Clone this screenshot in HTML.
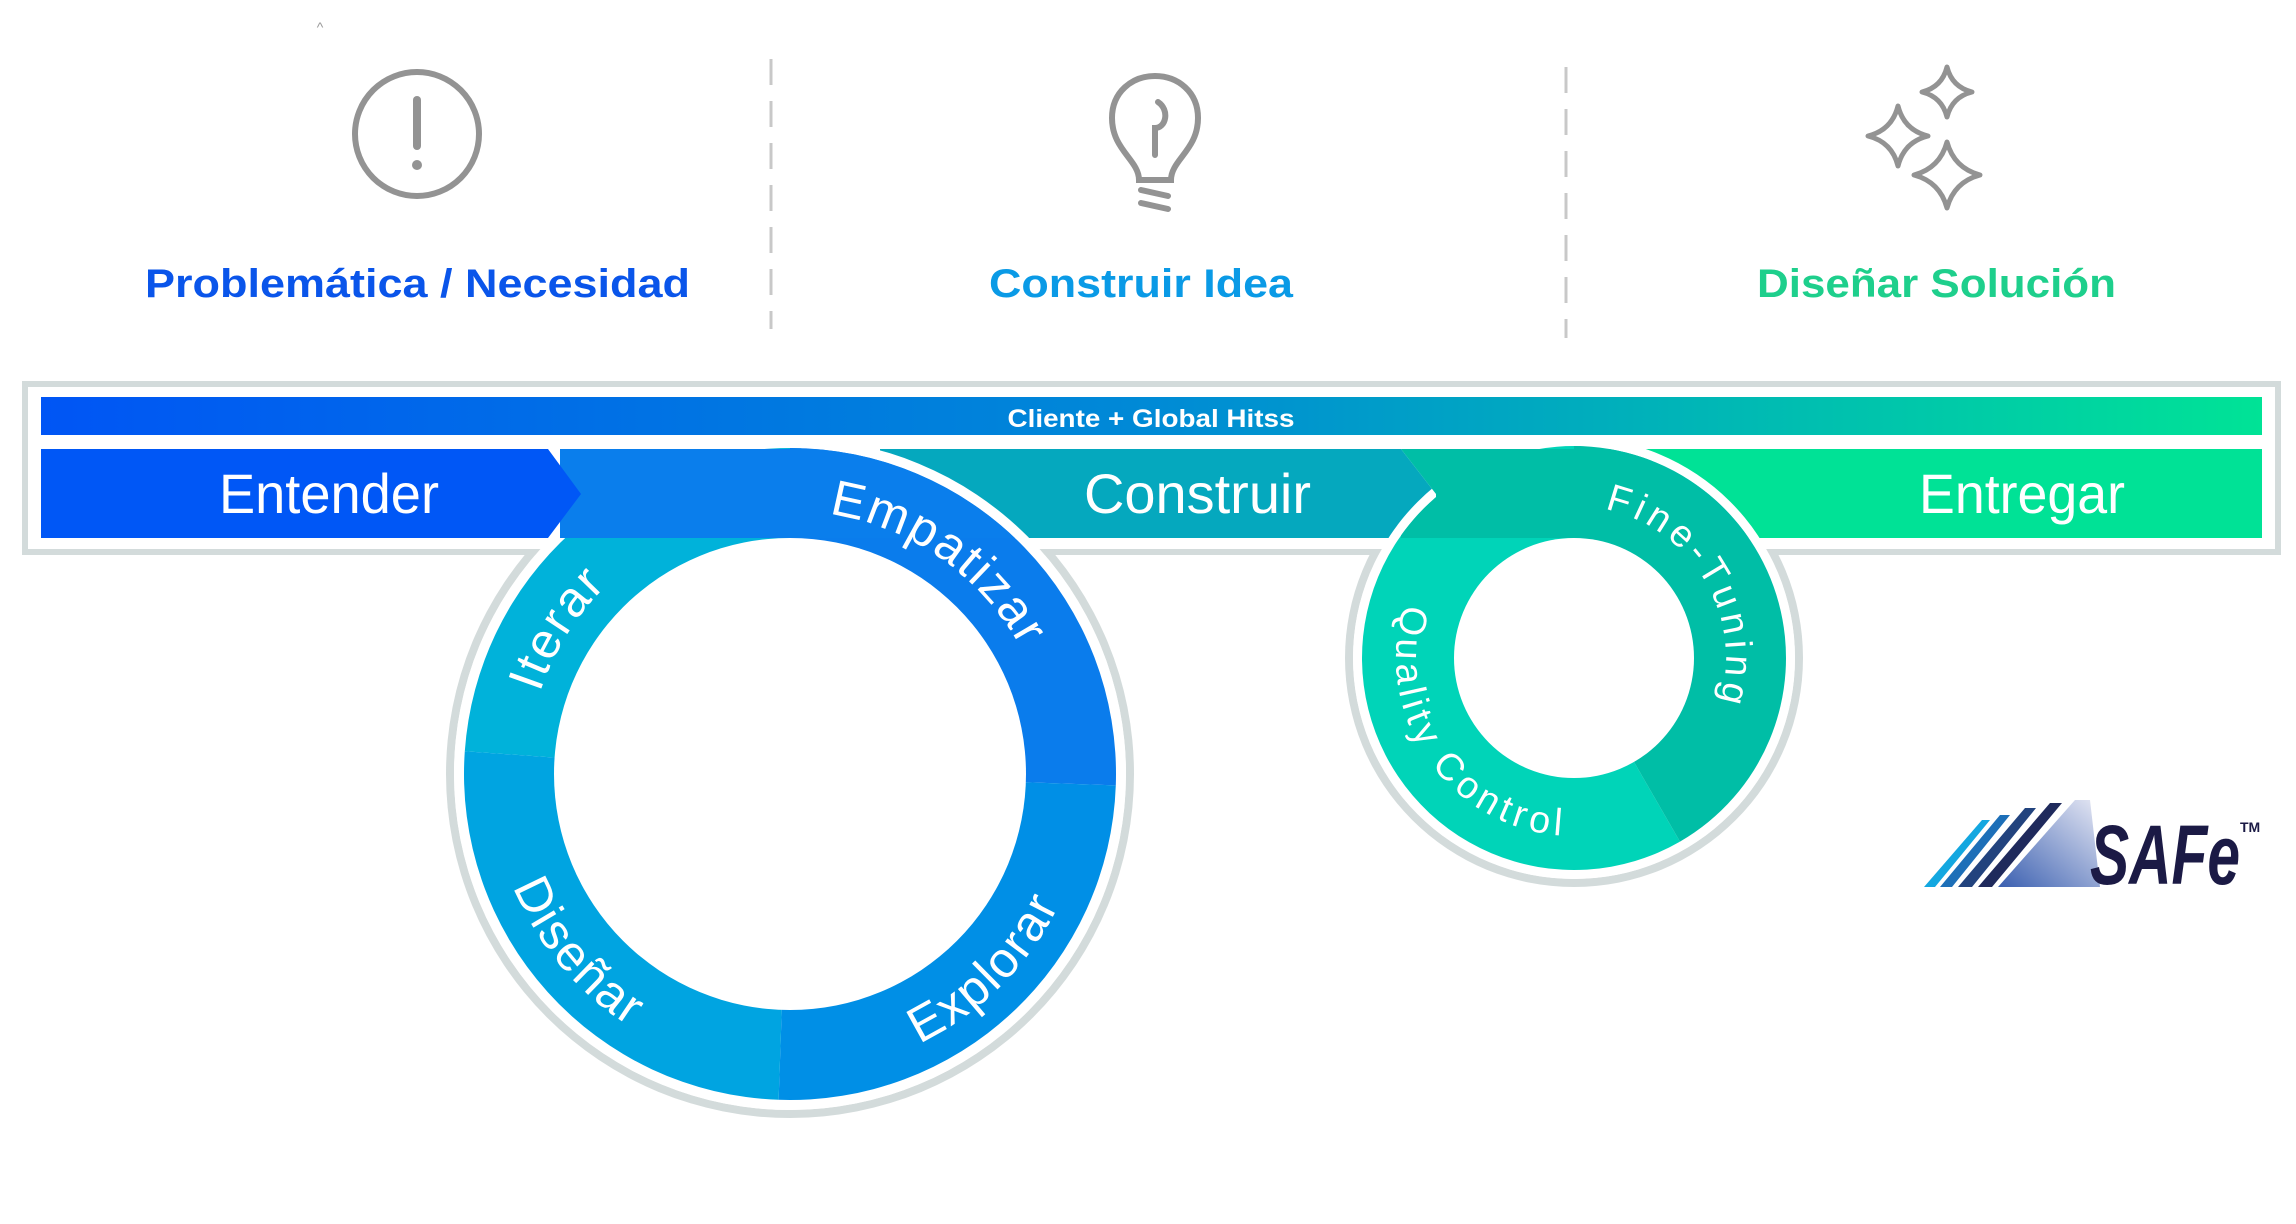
<!DOCTYPE html>
<html><head><meta charset="utf-8"><style>
html,body{margin:0;padding:0;background:#fff;}
svg{display:block;}
text{font-family:"Liberation Sans",sans-serif;}
</style></head><body>
<svg id="s" width="2296" height="1224" viewBox="0 0 2296 1224" xmlns="http://www.w3.org/2000/svg">
<defs>
<linearGradient id="gt" x1="0" x2="1" y1="0" y2="0">
<stop offset="0" stop-color="#0055f5"/><stop offset="0.5" stop-color="#008ad6"/><stop offset="1" stop-color="#00e396"/>
</linearGradient>
<linearGradient id="gl" x1="0" x2="1" y1="1" y2="0">
<stop offset="0" stop-color="#3a5fb0"/><stop offset="1" stop-color="#e6e8f4"/>
</linearGradient>
<clipPath id="cb"><circle cx="790" cy="774" r="326"/><rect x="560" y="449" width="230" height="89"/></clipPath>
<clipPath id="cs"><circle cx="1574" cy="658" r="212"/><rect x="1436" y="449" width="138" height="89"/></clipPath>
</defs>
<text x="320" y="32" font-size="14" fill="#999" text-anchor="middle">^</text>
<line x1="771" y1="59" x2="771" y2="329" stroke="#c8c8c8" stroke-width="3" stroke-dasharray="26,16"/>
<line x1="1566" y1="67" x2="1566" y2="338" stroke="#c8c8c8" stroke-width="3" stroke-dasharray="26,16"/>
<circle cx="417" cy="134" r="62" fill="none" stroke="#939393" stroke-width="6"/>
<line x1="417" y1="100" x2="417" y2="146" stroke="#939393" stroke-width="8" stroke-linecap="round"/>
<circle cx="417" cy="165" r="5" fill="#939393"/>
<g fill="none" stroke="#939393" stroke-width="6" stroke-linecap="round">
<path d="M1139,180 C1139,160 1112,150 1112,118 C1112,92 1132,76 1155,76 C1178,76 1198,92 1198,118 C1198,150 1171,160 1171,180 Z"/>
<path d="M1158,102 C1170,110 1166,128 1155,128 L1155,155"/>
<line x1="1141" y1="190" x2="1168" y2="196"/>
<line x1="1141" y1="203" x2="1168" y2="209"/>
</g>
<g fill="none" stroke="#939393" stroke-width="5" stroke-linejoin="round">
<path d="M1947,67 Q1952,87 1972,92 Q1952,97 1947,117 Q1942,97 1922,92 Q1942,87 1947,67 Z"/>
<path d="M1898,106 Q1904,130 1928,136 Q1904,142 1898,166 Q1892,142 1868,136 Q1892,130 1898,106 Z"/>
<path d="M1947,142 Q1954,168 1980,175 Q1954,182 1947,208 Q1940,182 1914,175 Q1940,168 1947,142 Z"/>
</g>
<text x="145" y="297" font-size="40" font-weight="bold" fill="#0a55ea" textLength="545" lengthAdjust="spacingAndGlyphs">Problemática / Necesidad</text>
<text x="989" y="297" font-size="40" font-weight="bold" fill="#0a9ae6" textLength="304" lengthAdjust="spacingAndGlyphs">Construir Idea</text>
<text x="1757" y="297" font-size="40" font-weight="bold" fill="#1ecf8c" textLength="359" lengthAdjust="spacingAndGlyphs">Diseñar Solución</text>

<circle cx="790" cy="774" r="344" fill="#d3dbdb"/>
<circle cx="790" cy="774" r="336" fill="#fff"/>
<circle cx="1574" cy="658" r="229" fill="#d3dbdb"/>
<circle cx="1574" cy="658" r="221" fill="#fff"/>
<rect x="25" y="384" width="2253" height="168" fill="#fff" stroke="#d3dbdb" stroke-width="6"/>
<rect x="41" y="397" width="2221" height="38" fill="url(#gt)"/>
<text x="1151" y="427" font-size="25" font-weight="bold" fill="#fff" text-anchor="middle" textLength="287" lengthAdjust="spacingAndGlyphs">Cliente + Global Hitss</text>
<polygon points="880,449 1401,449 1436,494 1401,538 880,538" fill="#05a8be"/>
<rect x="1600" y="449" width="662" height="89" fill="#00e296"/>
<circle cx="790" cy="774" r="336" fill="#fff"/>
<circle cx="1574" cy="658" r="221" fill="#fff"/>
<g id="bigring"></g>
<g id="smallring"></g>
<rect x="560" y="449" width="600" height="89" fill="#0a7eec" clip-path="url(#cb)"/>
<rect x="1401" y="449" width="420" height="89" fill="#00bea6" clip-path="url(#cs)"/>
<polygon points="1401,449 1436,449 1436,494" fill="#00bea6"/>
<polygon points="41,449 548,449 581,494 548,538 41,538" fill="#0057f6"/>
<circle cx="790" cy="774" r="236" fill="#fff"/>
<circle cx="1574" cy="658" r="120" fill="#fff"/>
<text x="219" y="513" font-size="56" fill="#fff" textLength="220" lengthAdjust="spacingAndGlyphs">Entender</text>
<text x="1084" y="513" font-size="56" fill="#fff" textLength="227" lengthAdjust="spacingAndGlyphs">Construir</text>
<text x="1919" y="513" font-size="56" fill="#fff" textLength="206" lengthAdjust="spacingAndGlyphs">Entregar</text>
<path id="pIt" fill="none" d=""/><path id="pEm" fill="none" d=""/>
<path id="pDi" fill="none" d=""/><path id="pEx" fill="none" d=""/>
<path id="pFt" fill="none" d=""/><path id="pQc" fill="none" d=""/>
<g fill="#fff" font-size="50">
<text><textPath href="#pIt" startOffset="50%" text-anchor="middle" letter-spacing="2">Iterar</textPath></text>
<text><textPath href="#pEm" startOffset="50%" text-anchor="middle" letter-spacing="2">Empatizar</textPath></text>
<text><textPath href="#pDi" startOffset="50%" text-anchor="middle" letter-spacing="2">Diseñar</textPath></text>
<text><textPath href="#pEx" startOffset="50%" text-anchor="middle" letter-spacing="2">Explorar</textPath></text>
</g>
<g fill="#fff" font-size="38">
<text><textPath href="#pFt" startOffset="50%" text-anchor="middle" letter-spacing="5">Fine-Tuning</textPath></text>
<text><textPath href="#pQc" startOffset="50%" text-anchor="middle" letter-spacing="5">Quality Control</textPath></text>
</g>
<g>
<polygon points="1998,887 2075,800 2090,800 2100,887" fill="url(#gl)"/>
<polygon points="1924,887 1982,820 1990,820 1935,887" fill="#13a7e0"/>
<polygon points="1940,887 2000,815 2010,815 1952,887" fill="#1d6fb8"/>
<polygon points="1958,887 2025,808 2036,808 1972,887" fill="#22437e"/>
<polygon points="1978,887 2050,803 2062,803 1992,887" fill="#1f2a5c"/>
<text x="2090" y="884" font-family="Liberation Sans Narrow, Liberation Sans, sans-serif" font-size="84" font-weight="bold" font-style="italic" fill="#1b1a45" textLength="150" lengthAdjust="spacingAndGlyphs">SAFe</text>
<text x="2240" y="832" font-size="14" font-weight="bold" fill="#1b1a45">TM</text>
</g>
</svg>
<script>
function P(a,r,cx,cy){a=a*Math.PI/180;return [cx+r*Math.cos(a),cy+r*Math.sin(a)];}
function arc(cx,cy,r,a1,a2){var p=P(a1,r,cx,cy),q=P(a2,r,cx,cy);var sw=a2>a1?1:0;var lg=Math.abs(a2-a1)>180?1:0;
return "M"+p[0].toFixed(1)+","+p[1].toFixed(1)+" A"+r+","+r+" 0 "+lg+" "+sw+" "+q[0].toFixed(1)+","+q[1].toFixed(1);}
function sector(cx,cy,r1,r2,a1,a2,col){var p1=P(a1,r2,cx,cy),p2=P(a2,r2,cx,cy),p3=P(a2,r1,cx,cy),p4=P(a1,r1,cx,cy);
var lg=(a2-a1)>180?1:0;
return '<path fill="'+col+'" d="M'+p1+' A'+r2+','+r2+' 0 '+lg+' 1 '+p2+' L'+p3+' A'+r1+','+r1+' 0 '+lg+' 0 '+p4+' Z"/>';}
document.getElementById('bigring').innerHTML=sector(790,774,232,326,184,272,'#00b2da')+sector(790,774,232,326,270,362,'#0a7cec')+sector(790,774,232,326,2,92,'#008fe6')+sector(790,774,232,326,92,184,'#00a4e1');
document.getElementById('smallring').innerHTML=sector(1574,658,116,212,60,272,'#00d4b8')+sector(1574,658,116,212,270,420,'#00bea6');
document.getElementById('pIt').setAttribute('d',arc(790,774,263,172,252));
document.getElementById('pEm').setAttribute('d',arc(790,774,263,250,360));
document.getElementById('pDi').setAttribute('d',arc(790,774,299,190,90));
document.getElementById('pEx').setAttribute('d',arc(790,774,299,95,-5));
document.getElementById('pFt').setAttribute('d',arc(1574,658,152,260,400));
document.getElementById('pQc').setAttribute('d',arc(1574,658,178,225,65));
</script>
</body></html>
